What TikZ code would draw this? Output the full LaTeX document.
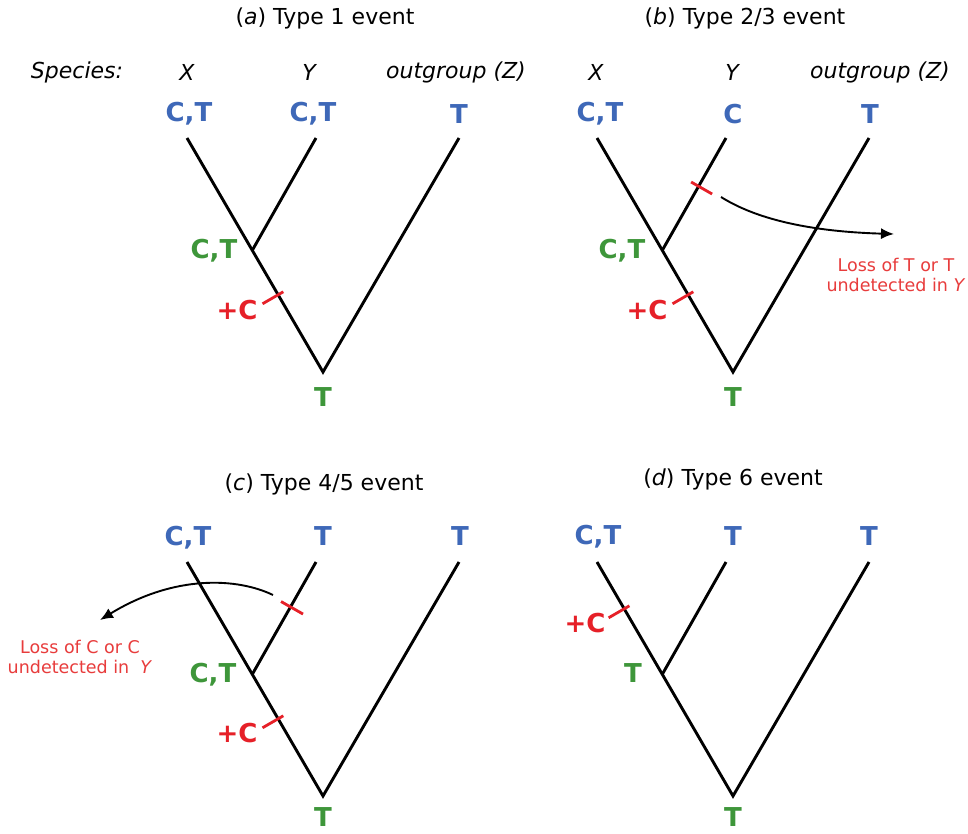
\documentclass[tikz,border=0pt]{standalone}
\usepackage{fontspec}
\setmainfont{DejaVu Sans}
\usetikzlibrary{calc,arrows.meta}
\definecolor{tipblue}{RGB}{62,104,184}
\definecolor{ancgreen}{RGB}{62,150,58}
\definecolor{gainred}{RGB}{230,32,40}
\definecolor{lossred}{RGB}{232,60,60}
\tikzset{
  branch/.style={draw=black,line width=2.9pt,line join=miter},
  gaintick/.style={draw=gainred,line width=2.8pt},
  tiplab/.style={font=\fontsize{26}{30}\selectfont\bfseries,text=tipblue,inner sep=0pt},
  anclab/.style={font=\fontsize{26}{30}\selectfont\bfseries,text=ancgreen,inner sep=0pt},
  gainlab/.style={font=\fontsize{26}{30}\selectfont\bfseries,text=gainred,inner sep=0pt},
  paneltitle/.style={font=\fontsize{22}{26}\selectfont,inner sep=0pt},
  specieslab/.style={font=\fontsize{22}{26}\selectfont\itshape,inner sep=0pt},
  losslab/.style={font=\fontsize{17.5}{19.5}\selectfont,text=lossred,align=center,inner sep=0pt},
  lossarrow/.style={draw=black,line width=1.9pt,-{Latex[length=13pt,width=11pt]}}
}
\begin{document}
\begin{tikzpicture}[x=1pt,y=-1pt]
\useasboundingbox[fill=white] (0,0) rectangle (968,833);

% ---------- titles and species row ----------
\node[paneltitle] (ta) at (325,18) {(\textit{a}) Type 1 event};
\node[paneltitle] (tb) at (745,18) {(\textit{b}) Type 2/3 event};
\node[paneltitle] (tc) at (324,484) {(\textit{c}) Type 4/5 event};
\node[paneltitle] (td) at (733,479) {(\textit{d}) Type 6 event};

\node[specieslab] (sp) at (77,72) {Species:};
\node[specieslab] (saX) at (187,72) {X};
\node[specieslab] (saY) at (309,72) {Y};
\node[specieslab] (saZ) at (456,72) {outgroup (Z)};
\node[specieslab] (sbX) at (596,72) {X};
\node[specieslab] (sbY) at (732,72) {Y};
\node[specieslab] (sbZ) at (880,72) {outgroup (Z)};

% ---------- panel (a) ----------
\coordinate (aX) at (187,138);
\coordinate (aY) at (316,138);
\coordinate (aZ) at (459,138);
\coordinate (aR) at (323,372);
\coordinate (aJ) at ($(aR)!0.52!(aX)$);
\draw[branch] (aX) -- (aR) -- (aZ);
\draw[branch] (aJ) -- (aY);
\coordinate (aG) at ($(aR)!0.33!(aX)$);
\draw[gaintick] ($(aG)+(-15.6,9)$) -- ($(aG)+(5.2,-3)$);
\node[tiplab] (laX) at (189,114) {C,T};
\node[tiplab] (laY) at (313,114) {C,T};
\node[tiplab] (laZ) at (459,114) {T};
\node[anclab] (laJ) at (214,251) {C,T};
\node[gainlab] (laG) at (237,310) {+C};
\node[anclab] (laR) at (323,397) {T};

% ---------- panel (b) ----------
\coordinate (bX) at (597,138);
\coordinate (bY) at (726,138);
\coordinate (bZ) at (869,138);
\coordinate (bR) at (733,372);
\coordinate (bJ) at ($(bR)!0.52!(bX)$);
\draw[branch] (bX) -- (bR) -- (bZ);
\draw[branch] (bJ) -- (bY);
\coordinate (bG) at ($(bR)!0.33!(bX)$);
\draw[gaintick] ($(bG)+(-15.6,9)$) -- ($(bG)+(5.2,-3)$);
\coordinate (bL) at ($(bJ)!0.57!(bY)$);
\draw[gaintick] ($(bL)+(-7.5,-4.3)$) -- ($(bL)+(13.5,7.7)$);
\coordinate (bArrS) at (721,197);
\coordinate (bArrE) at (894,234);
\draw[lossarrow] (bArrS) .. controls (745,212) and (790,231) .. (bArrE);
\node[losslab] (lbLoss) at (896,275) {Loss of T or T\\undetected in \textit{Y}};
\node[tiplab] (lbX) at (600,114) {C,T};
\node[tiplab] (lbY) at (733,114) {C};
\node[tiplab] (lbZ) at (870,114) {T};
\node[anclab] (lbJ) at (622,251) {C,T};
\node[gainlab] (lbG) at (647,310) {+C};
\node[anclab] (lbR) at (733,397) {T};

% ---------- panel (c) ----------
\coordinate (cX) at (187,562);
\coordinate (cY) at (316,562);
\coordinate (cZ) at (459,562);
\coordinate (cR) at (323,796);
\coordinate (cJ) at ($(cR)!0.52!(cX)$);
\draw[branch] (cX) -- (cR) -- (cZ);
\draw[branch] (cJ) -- (cY);
\coordinate (cG) at ($(cR)!0.33!(cX)$);
\draw[gaintick] ($(cG)+(-15.6,9)$) -- ($(cG)+(5.2,-3)$);
\coordinate (cL) at ($(cJ)!0.6!(cY)$);
\draw[gaintick] ($(cL)+(-9.5,-5.4)$) -- ($(cL)+(12.5,7.1)$);
\coordinate (cArrS) at (273,595);
\coordinate (cArrE) at (100,620);
\draw[lossarrow] (cArrS) .. controls (238,578) and (175,574) .. (cArrE);
\node[losslab] (lcLoss) at (80,657) {Loss of C or C\\undetected in\ \ \textit{Y}};
\node[tiplab] (lcX) at (188,538) {C,T};
\node[tiplab] (lcY) at (323,536) {T};
\node[tiplab] (lcZ) at (460,536) {T};
\node[anclab] (lcJ) at (213,675) {C,T};
\node[gainlab] (lcG) at (237,733) {+C};
\node[anclab] (lcR) at (323,817) {T};

% ---------- panel (d) ----------
\coordinate (dX) at (597,562);
\coordinate (dY) at (726,562);
\coordinate (dZ) at (869,562);
\coordinate (dR) at (733,796);
\coordinate (dJ) at ($(dR)!0.52!(dX)$);
\draw[branch] (dX) -- (dR) -- (dZ);
\draw[branch] (dJ) -- (dY);
\coordinate (dG) at ($(dR)!0.8!(dX)$);
\draw[gaintick] ($(dG)+(-15.6,9)$) -- ($(dG)+(5.2,-3)$);
\node[tiplab] (ldX) at (598,537) {C,T};
\node[tiplab] (ldY) at (733,536) {T};
\node[tiplab] (ldZ) at (869,536) {T};
\node[anclab] (ldJ) at (633,673) {T};
\node[gainlab] (ldG) at (585,623) {+C};
\node[anclab] (ldR) at (733,817) {T};
\end{tikzpicture}
\end{document}
